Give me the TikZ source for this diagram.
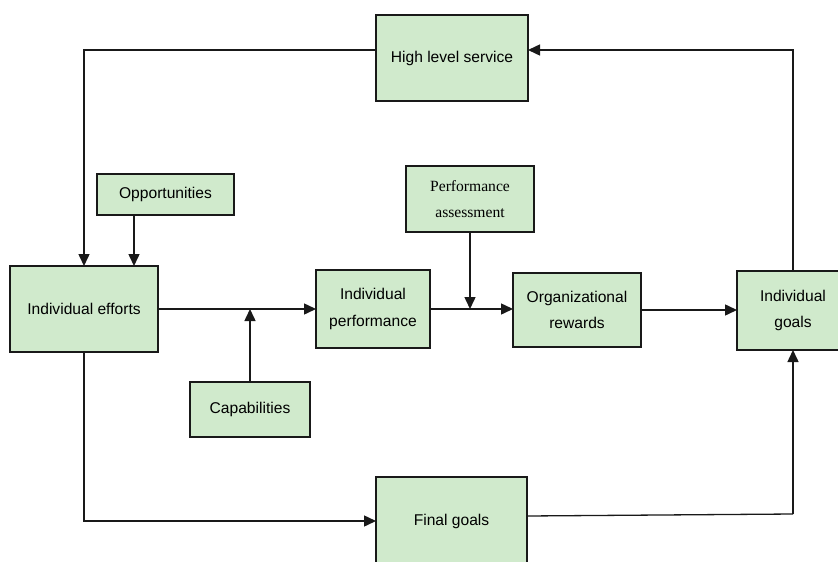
\documentclass[tikz,border=0pt]{standalone}
\usepackage{fontspec}
\setmainfont{Liberation Sans}
\newfontfamily\serifa{Liberation Serif}
\usetikzlibrary{arrows.meta}
\definecolor{boxgreen}{RGB}{208,234,204}
\definecolor{edge}{RGB}{25,25,25}
\tikzset{
  box/.style={draw=edge, fill=boxgreen, line width=1.5pt, inner sep=0pt, outer sep=0pt,
    align=center, font=\fontsize{15.6}{26.5}\selectfont},
  arr/.style={draw=edge, line width=1.5pt, -{Triangle[length=12pt,width=11pt]}},
  ln/.style={draw=edge, line width=1.3pt}
}
\begin{document}
\begin{tikzpicture}[x=1pt,y=-1pt]
\useasboundingbox (0,0) rectangle (838,562);
\clip (0,0) rectangle (838,562);
\fill[white] (0,0) rectangle (838,562);
\node[box, minimum width=152pt, minimum height=86pt] (hls) at (452,58) {High level service};
\node[box, minimum width=137pt, minimum height=41pt] (opp) at (165.5,194.5) {Opportunities};
\node[box, minimum width=148pt, minimum height=86pt] (ie) at (84,309) {Individual efforts};
\node[box, minimum width=120pt, minimum height=55pt] (cap) at (250,409.5) {Capabilities};
\node[box, minimum width=114pt, minimum height=78pt] (ip) at (373,309) {Individual\\performance};
\node[box, minimum width=128pt, minimum height=66pt, font=\serifa\fontsize{15.6}{26.5}\selectfont] (pa) at (470,199) {Performance\\assessment};
\node[box, minimum width=128pt, minimum height=74pt] (orw) at (577,310) {Organizational\\rewards};
\node[box, minimum width=112pt, minimum height=79pt] (ig) at (793,310.5) {Individual\\goals};
\node[box, minimum width=151pt, minimum height=88pt] (fg) at (451.5,521) {Final goals};
\coordinate (corner) at (793,514);
\coordinate (oppout) at ([xshift=-31.5pt]opp.south);

\draw[arr] ([yshift=8pt]hls.west) -| (ie.north);
\draw[arr] (oppout) -- (oppout |- ie.north);
\draw[arr] (ie.east) -- (ie.east -| ip.west);
\draw[arr] (cap.north) -- (cap.north |- ie.east);
\draw[arr] (ip.east) -- (ip.east -| orw.west);
\draw[arr] (pa.south) -- (pa.south |- ip.east);
\draw[arr] (orw.east) -- (orw.east -| ig.west);
\draw[arr] (ig.north) |- ([yshift=8pt]hls.east);
\draw[arr] (ie.south) |- (fg.west);
\draw[ln] ([yshift=5pt]fg.east) -- (corner);
\draw[arr] (corner) -- (ig.south);
\end{tikzpicture}
\end{document}
